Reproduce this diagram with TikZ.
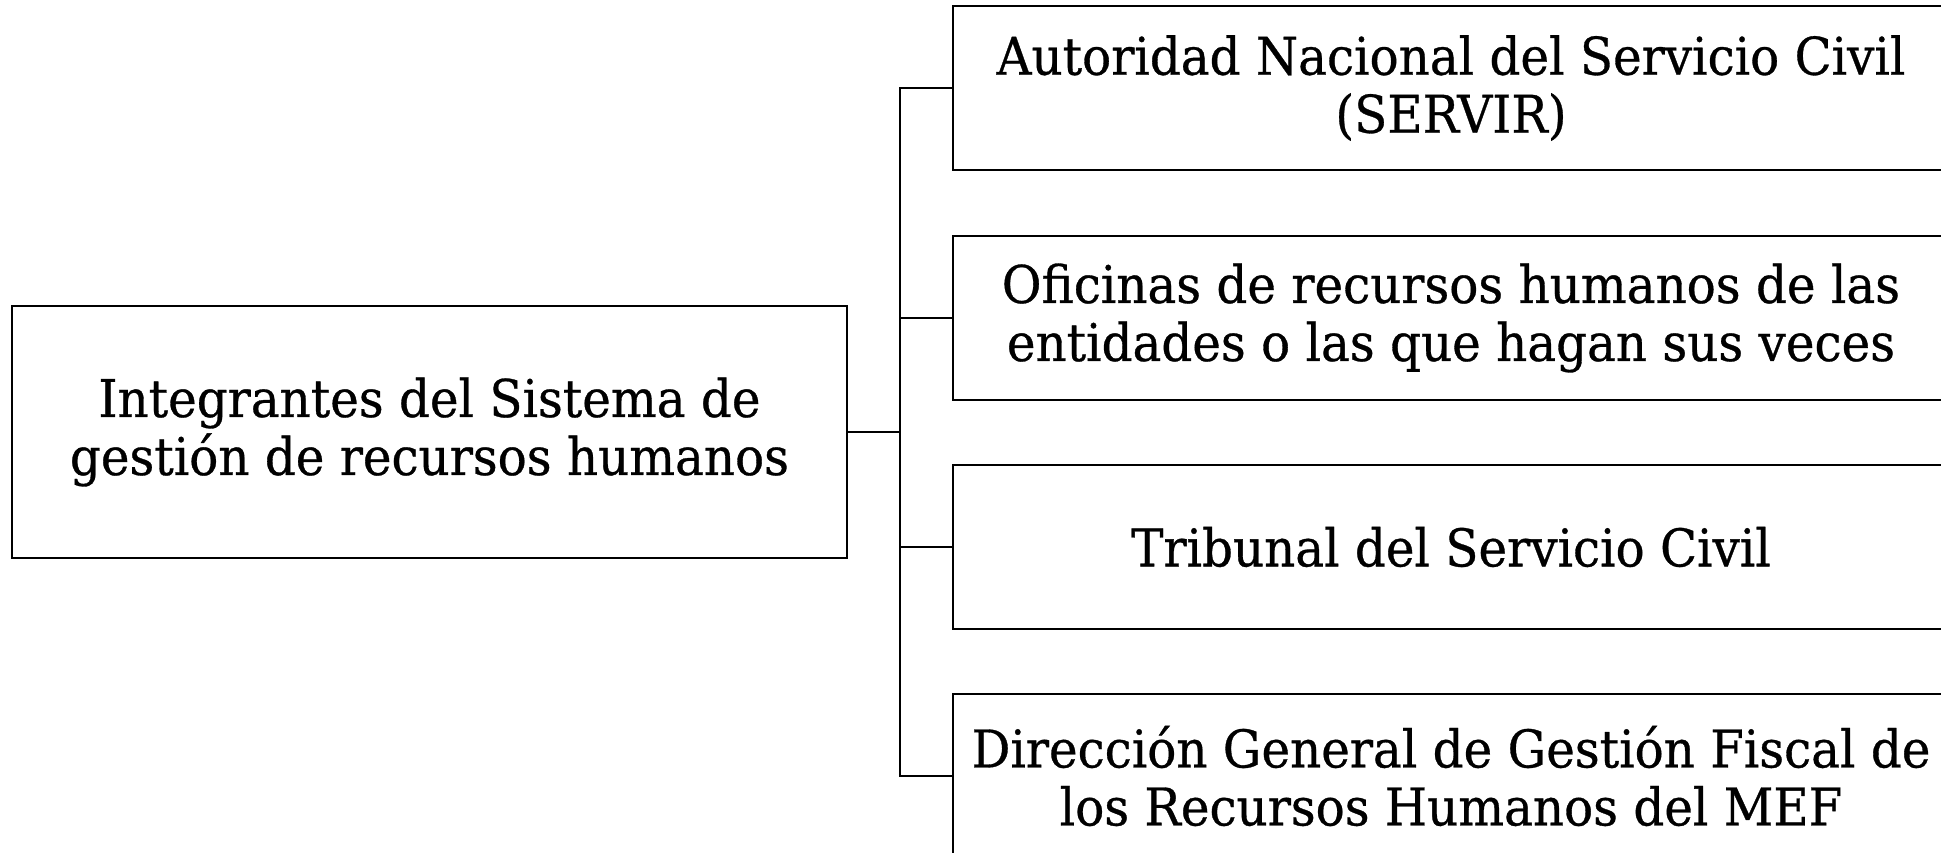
\documentclass[tikz,border=0pt]{standalone}
\usepackage{fontspec}
\setmainfont{DejaVu Serif}[FakeStretch=0.93, FakeBold=0.6]
\begin{document}
\begin{tikzpicture}[x=1pt,y=-1pt,
  box/.style={draw, line width=2.4pt, align=center, inner sep=0pt, font=\fontsize{52}{58}\selectfont},
  rbox/.style={box, minimum width=996pt, minimum height=164pt},
  link/.style={line width=2.4pt}]
\useasboundingbox (0,0) rectangle (1941,853);
\node[box, minimum width=835pt, minimum height=252pt] (L) at (429.5,432) {Integrantes del Sistema de\\gestión de recursos humanos};
\node[rbox] (r1) at (1451,88) {Autoridad Nacional del Servicio Civil\\(SERVIR)};
\node[rbox] (r2) at (1451,318) {Oficinas de recursos humanos de las\\entidades o las que hagan sus veces};
\node[rbox] (r3) at (1451,547) {Tribunal del Servicio Civil};
\node[rbox] (r4) at (1451,776) {Dirección General de Gestión Fiscal de\\los Recursos Humanos del MEF};
\coordinate (j) at (900,432);
\draw[link] (L.east) -- (j);
\draw[link] (r1.west) -| (j) |- (r4.west);
\draw[link] (j |- r2.west) -- (r2.west);
\draw[link] (j |- r3.west) -- (r3.west);
\end{tikzpicture}
\end{document}
